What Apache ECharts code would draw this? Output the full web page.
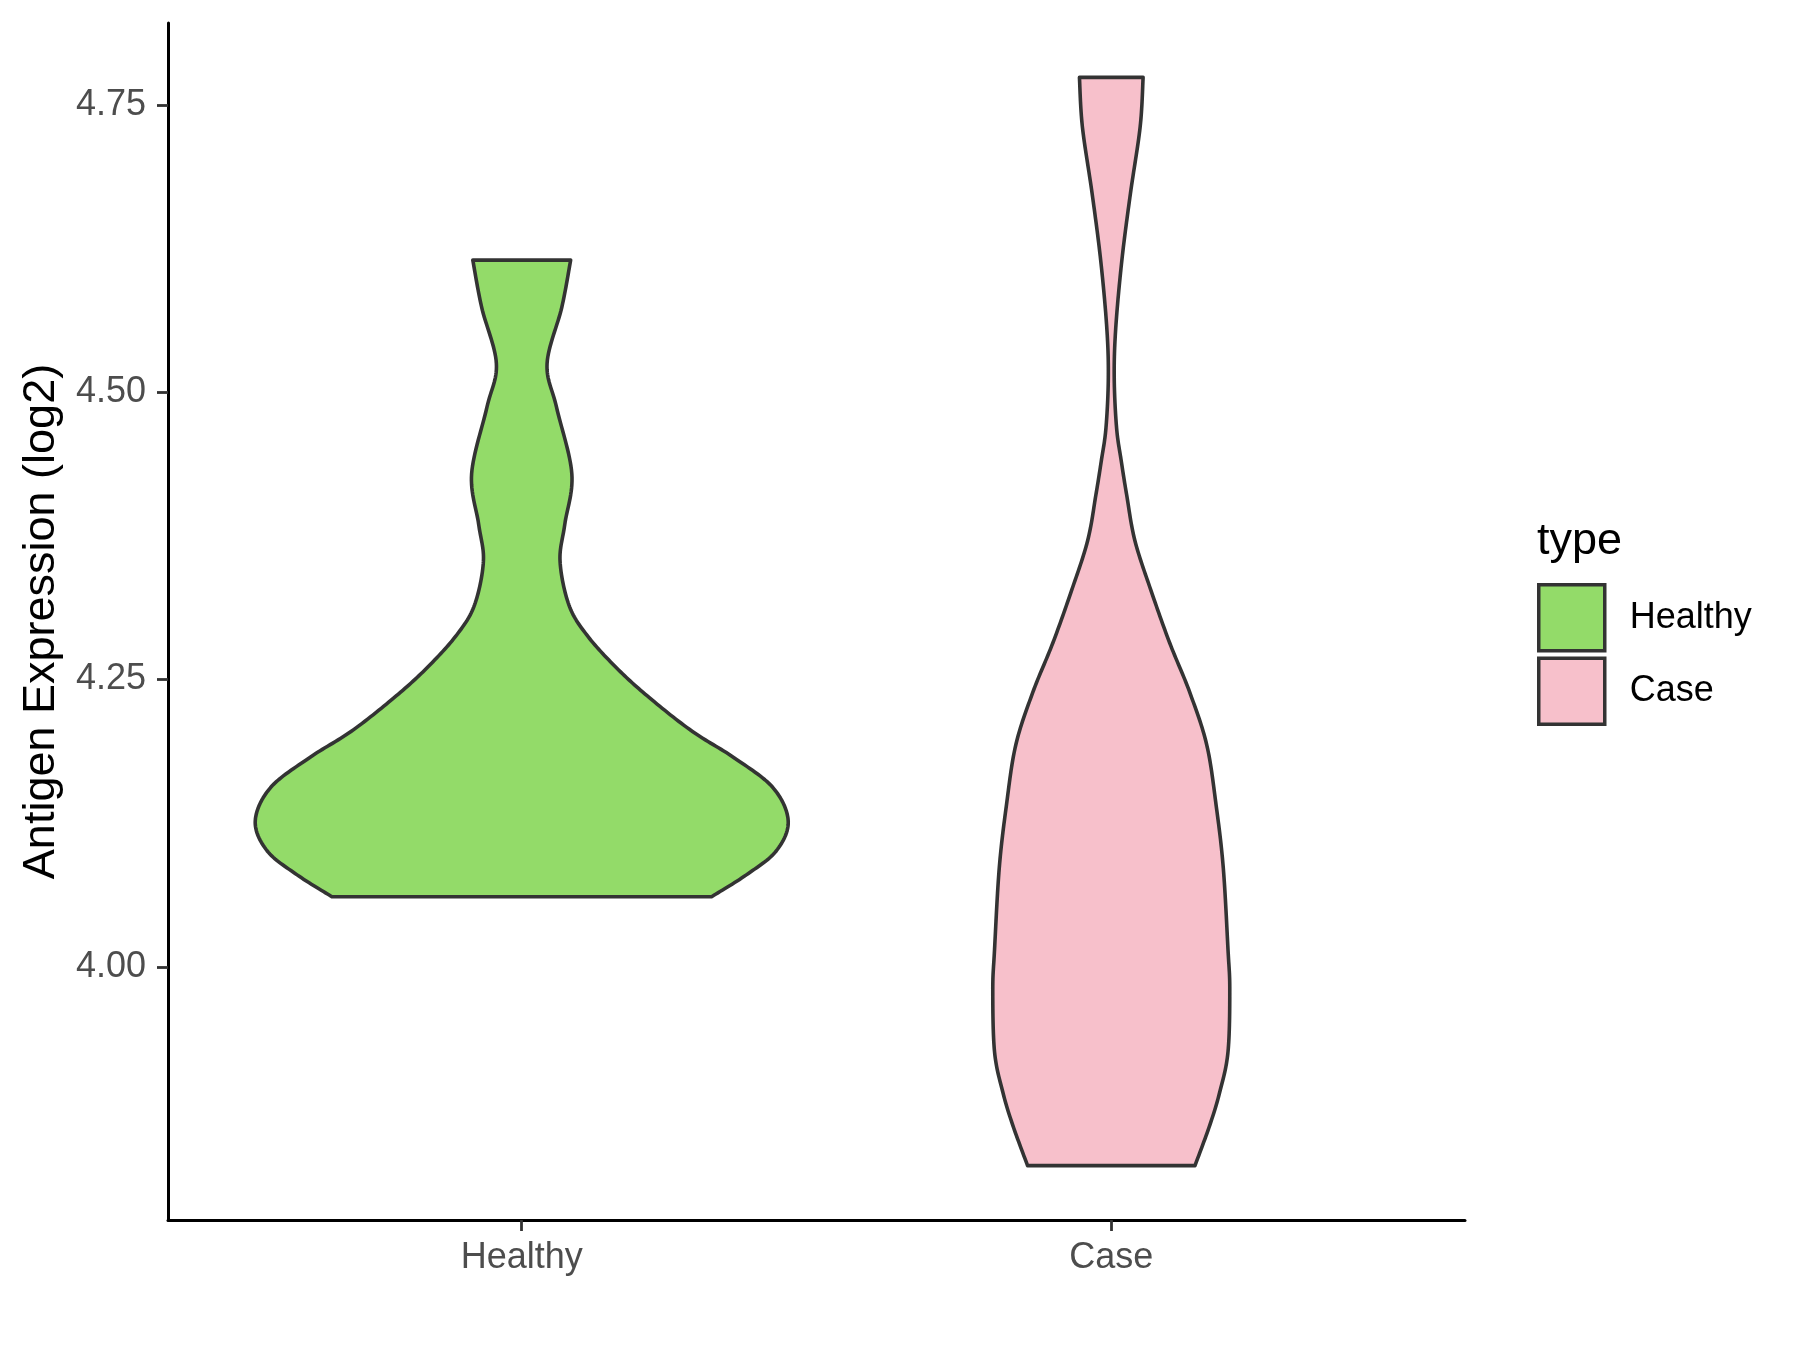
<!DOCTYPE html>
<html>
<head>
<meta charset="utf-8">
<script src="https://cdn.jsdelivr.net/npm/echarts@6/dist/echarts.min.js"></script>
<style>
    html, body { margin: 0; padding: 0; background: #fff; }
    #main { width: 1800px; height: 1350px; }
</style>
</head>
<body>
<div id="main"></div>
<script>
    var categories = ['Healthy', 'Case'];
    var fills = ['#93DB69', '#F7C0CB'];
    var yTicks = [4.00, 4.25, 4.50, 4.75];

    // violin outlines: expression value and half-width (category units)
    var healthyValues = [4.615, 4.574, 4.525, 4.487, 4.429, 4.385, 4.353, 4.315, 4.289, 4.260, 4.234, 4.205, 4.182, 4.156, 4.127, 4.101, 4.080, 4.061];
    var healthyWidths = [0.083, 0.068, 0.043, 0.059, 0.085, 0.073, 0.065, 0.080, 0.110, 0.161, 0.217, 0.289, 0.360, 0.426, 0.452, 0.432, 0.381, 0.322];
    var caseValues = [4.774, 4.731, 4.673, 4.615, 4.556, 4.513, 4.469, 4.440, 4.411, 4.371, 4.328, 4.282, 4.239, 4.193, 4.140, 4.086, 4.015, 3.980, 3.926, 3.891, 3.862, 3.827];
    var caseWidths = [0.054, 0.049, 0.0325, 0.018, 0.0076, 0.005, 0.009, 0.017, 0.026, 0.040, 0.067, 0.099, 0.133, 0.162, 0.178, 0.190, 0.198, 0.201, 0.198, 0.184, 0.167, 0.142];

    // y range like ggplot: data range plus 5% each side
    var allValues = healthyValues.concat(caseValues);
    var yLo = Math.min.apply(null, allValues), yHi = Math.max.apply(null, allValues);
    var pad = (yHi - yLo) * 0.05;

    // catmull-rom through the outline points, sampled into a polyline (pixel space)
    function smoothLine(p) {
        var out = [p[0]];
        for (var i = 0; i < p.length - 1; i++) {
            var p0 = p[i - 1] || p[i], p1 = p[i], p2 = p[i + 1], p3 = p[i + 2] || p[i + 1];
            var c1 = [p1[0] + (p2[0] - p0[0]) / 6, p1[1] + (p2[1] - p0[1]) / 6];
            var c2 = [p2[0] - (p3[0] - p1[0]) / 6, p2[1] - (p3[1] - p1[1]) / 6];
            for (var s = 1; s <= 16; s++) {
                var t = s / 16, u = 1 - t;
                out.push([
                    u * u * u * p1[0] + 3 * u * u * t * c1[0] + 3 * u * t * t * c2[0] + t * t * t * p2[0],
                    u * u * u * p1[1] + 3 * u * u * t * c1[1] + 3 * u * t * t * c2[1] + t * t * t * p2[1]
                ]);
            }
        }
        return out;
    }

    function violin(k, vals, wids) {
        return {
            type: 'custom',
            name: categories[k],
            itemStyle: { color: fills[k], borderColor: '#333333', borderWidth: 3.5 },
            data: [[k + 1, vals[0]]],
            renderItem: function (params, api) {
                var left = [], right = [];
                for (var i = 0; i < vals.length; i++) {
                    left.push(api.coord([k + 1 - wids[i], vals[i]]));
                    right.push(api.coord([k + 1 + wids[i], vals[i]]));
                }
                var pts = smoothLine(left).concat(smoothLine(right).reverse());
                return {
                    type: 'polygon',
                    shape: { points: pts },
                    style: { fill: fills[k], stroke: '#333333', lineWidth: 3.6, lineJoin: 'round' }
                };
            }
        };
    }

    var chart = echarts.init(document.getElementById('main'));
    chart.setOption({
        animation: false,
        textStyle: { fontFamily: 'Liberation Sans, Arial, sans-serif' },
        grid: { left: 168, right: 335, top: 23, bottom: 130, containLabel: false },
        title: {
            text: 'type', left: 1537, top: 519, padding: 0,
            textStyle: { fontSize: 45, fontWeight: 'normal', color: '#000' }
        },
        legend: {
            orient: 'vertical', left: 1537, top: 583, padding: 0,
            itemWidth: 66, itemHeight: 66, itemGap: 4, icon: 'rect',
            textStyle: { fontSize: 36, color: '#000', padding: [0, 0, 0, 20] },
            data: categories.map(function (c, k) {
                return { name: c, itemStyle: { color: fills[k], borderColor: '#333333', borderWidth: 3.5 } };
            })
        },
        xAxis: {
            type: 'value', min: 0.4, max: 2.6,
            axisLine: { show: true, lineStyle: { color: '#000', width: 3 } },
            axisTick: { show: true, customValues: [1, 2], length: 11, lineStyle: { color: '#333', width: 2.8 } },
            axisLabel: {
                customValues: [1, 2], fontSize: 36, color: '#4D4D4D', margin: 20,
                formatter: function (v) { return categories[Math.round(v) - 1]; }
            },
            splitLine: { show: false }
        },
        yAxis: {
            type: 'value', min: yLo - pad, max: yHi + pad,
            name: 'Antigen Expression (log2)', nameLocation: 'middle', nameGap: 104,
            nameTextStyle: { fontSize: 45, color: '#000' },
            axisLine: { show: true, lineStyle: { color: '#000', width: 3 } },
            axisTick: { show: true, customValues: yTicks, length: 11, lineStyle: { color: '#333', width: 2.8 } },
            axisLabel: {
                customValues: yTicks, fontSize: 36, color: '#4D4D4D', margin: 22,
                formatter: function (v) { return v.toFixed(2); }
            },
            splitLine: { show: false }
        },
        series: [
            violin(0, healthyValues, healthyWidths),
            violin(1, caseValues, caseWidths)
        ]
    });
</script>
</body>
</html>
